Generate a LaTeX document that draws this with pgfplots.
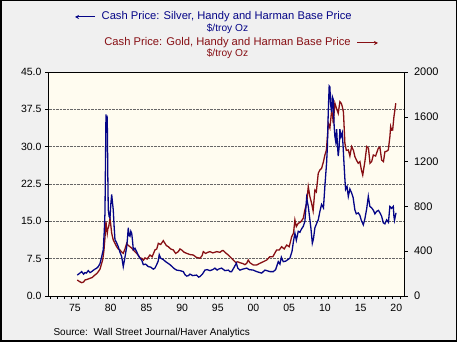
\documentclass[border=0pt]{standalone}
\usepackage{pgfplots}
\pgfplotsset{compat=1.18}
\usepackage{fontspec}
\setmainfont{Liberation Sans}
\usetikzlibrary{arrows.meta}
\definecolor{silv}{RGB}{5,5,135}
\definecolor{gold}{RGB}{135,15,20}
\definecolor{outerbg}{RGB}{240,240,240}
\definecolor{plotbg}{RGB}{255,252,240}
\pgfplotstableread{
year value
1975.82 4.2
1976.1 4.5
1976.44 4.9
1976.7 4.4
1976.9 4.7
1977.1 4.6
1977.36 5.1
1977.6 4.7
1977.84 4.9
1978.1 5.2
1978.3 5.4
1978.55 5.6
1978.76 5.9
1979.0 6.5
1979.24 7.9
1979.46 9.3
1979.6 13.0
1979.7 16.7
1979.78 28.0
1979.84 36.5
1979.92 35.0
1980.02 35.5
1980.1 24.0
1980.16 17.3
1980.28 16.0
1980.4 15.7
1980.52 18.5
1980.64 20.4
1980.75 18.8
1980.86 17.3
1980.98 14.0
1981.1 11.3
1981.3 10.8
1981.56 9.9
1981.8 8.8
1982.04 7.9
1982.26 5.9
1982.5 7.8
1982.74 9.9
1982.85 11.5
1982.96 13.7
1983.08 12.2
1983.2 12.0
1983.32 13.0
1983.44 12.6
1983.55 11.2
1983.67 9.3
1983.9 9.6
1984.14 8.9
1984.35 8.2
1984.6 7.6
1984.85 7.2
1985.07 6.3
1985.4 6.4
1985.77 5.9
1986.1 5.8
1986.47 5.4
1986.7 5.6
1986.94 6.3
1987.15 7.0
1987.3 8.3
1987.5 7.6
1987.87 7.3
1988.2 6.9
1988.5 6.6
1988.8 6.3
1989.1 5.9
1989.4 5.5
1989.74 5.2
1990.2 5.1
1990.67 4.9
1990.9 4.3
1991.14 4.0
1991.4 4.1
1991.6 4.4
1992.0 4.1
1992.54 4.2
1992.8 3.8
1993.0 3.9
1993.35 4.4
1993.7 5.2
1994.0 5.3
1994.4 5.1
1994.8 5.3
1995.1 5.6
1995.4 5.2
1995.6 5.4
1996.04 5.6
1996.5 5.1
1996.97 5.2
1997.2 4.9
1997.44 4.9
1997.8 5.8
1998.1 6.6
1998.3 5.6
1998.6 5.2
1999.0 5.4
1999.55 5.6
1999.9 5.3
2000.47 5.2
2000.94 4.9
2001.4 4.7
2001.65 4.6
2002.1 5.2
2002.35 5.1
2002.8 4.9
2003.28 4.9
2003.6 5.3
2003.97 6.9
2004.2 6.4
2004.4 7.8
2004.67 6.9
2005.0 7.0
2005.3 7.3
2005.6 7.6
2005.9 9.0
2006.1 11.0
2006.3 12.6
2006.5 11.2
2006.77 13.0
2007.0 12.8
2007.2 13.4
2007.47 14.0
2007.7 15.0
2007.94 19.7
2008.17 18.0
2008.4 15.3
2008.55 13.5
2008.74 10.6
2008.9 11.5
2009.1 13.7
2009.35 14.6
2009.57 15.3
2009.8 17.0
2010.04 18.4
2010.3 17.7
2010.5 22.1
2010.74 26.8
2010.85 30.0
2010.97 36.9
2011.1 42.2
2011.2 42.0
2011.3 38.5
2011.45 36.9
2011.55 40.0
2011.67 39.5
2011.8 34.0
2011.9 32.1
2012.02 31.0
2012.15 33.5
2012.25 30.5
2012.37 28.1
2012.5 30.0
2012.6 33.5
2012.75 32.0
2012.94 32.8
2013.05 30.0
2013.17 26.8
2013.3 23.5
2013.4 21.4
2013.6 22.0
2013.78 20.0
2014.0 21.5
2014.24 20.7
2014.45 19.8
2014.7 17.3
2014.9 16.5
2015.17 16.7
2015.4 16.2
2015.6 15.2
2015.88 14.3
2016.1 15.5
2016.35 17.5
2016.58 20.0
2016.8 18.0
2017.05 17.7
2017.3 17.2
2017.5 16.5
2017.75 17.0
2018.0 17.2
2018.25 16.6
2018.45 16.0
2018.68 14.7
2018.9 14.5
2019.15 15.3
2019.4 14.8
2019.6 18.0
2019.85 17.6
2020.08 18.0
2020.17 16.0
2020.25 15.2
2020.46 16.7
}\silver
\pgfplotstableread{
year value
1975.82 143
1976.1 130
1976.44 119
1976.7 125
1976.9 143
1977.2 148
1977.6 158
1977.9 165
1978.3 188
1978.55 200
1978.76 217
1979.0 240
1979.24 292
1979.4 330
1979.56 411
1979.7 520
1979.84 663
1979.92 610
1980.02 560
1980.1 600
1980.22 619
1980.3 650
1980.4 694
1980.52 630
1980.64 560
1980.75 530
1980.86 500
1981.1 470
1981.34 440
1981.55 420
1981.8 411
1982.0 395
1982.26 381
1982.5 420
1982.74 470
1982.9 455
1983.2 440
1983.4 430
1983.67 411
1983.9 395
1984.14 381
1984.4 360
1984.6 340
1984.84 337
1985.1 320
1985.3 340
1985.6 330
1986.0 366
1986.3 350
1986.7 411
1986.95 420
1987.17 470
1987.5 460
1987.87 494
1988.1 470
1988.3 450
1988.57 440
1988.9 420
1989.27 411
1989.6 380
1989.97 396
1990.2 420
1990.44 411
1990.8 390
1991.14 381
1991.6 370
1992.07 366
1992.5 345
1993.0 337
1993.3 360
1993.47 396
1993.8 380
1994.1 390
1994.4 396
1994.8 385
1995.35 396
1995.8 390
1996.1 405
1996.27 405
1996.6 385
1996.97 366
1997.3 345
1997.67 321
1998.0 300
1998.3 305
1998.6 297
1999.0 290
1999.3 280
1999.55 292
1999.77 321
2000.0 297
2000.47 277
2000.94 277
2001.4 292
2001.87 306
2002.35 321
2002.8 351
2003.2 350
2003.74 411
2004.1 410
2004.44 440
2004.8 420
2005.15 455
2005.5 440
2005.85 530
2006.1 560
2006.3 679
2006.5 620
2006.77 649
2007.1 660
2007.47 694
2007.7 768
2007.95 830
2008.17 976
2008.4 887
2008.64 828
2008.85 760
2009.1 946
2009.3 930
2009.57 1096
2009.8 1125
2010.04 1140
2010.3 1200
2010.5 1259
2010.7 1300
2010.84 1408
2010.97 1542
2011.2 1500
2011.45 1661
2011.6 1600
2011.67 1542
2011.9 1721
2012.1 1680
2012.37 1631
2012.6 1735
2012.8 1720
2012.94 1690
2013.1 1640
2013.3 1364
2013.5 1300
2013.78 1304
2014.0 1250
2014.24 1334
2014.5 1300
2014.7 1244
2014.95 1210
2015.17 1185
2015.4 1200
2015.6 1130
2015.8 1080
2016.1 1200
2016.36 1334
2016.6 1320
2016.82 1185
2017.05 1200
2017.28 1259
2017.6 1250
2017.98 1319
2018.2 1330
2018.45 1214
2018.7 1200
2018.91 1289
2019.1 1290
2019.38 1304
2019.6 1420
2019.71 1512
2019.85 1480
2019.99 1482
2020.17 1601
2020.3 1660
2020.43 1721
}\gold
\begin{document}
\begin{tikzpicture}
\fill[outerbg] (0pt,0pt) rectangle (457pt,342pt);
\draw[black,line width=1.5pt] (0.75pt,0.75pt) rectangle (456.25pt,341.25pt);
% gold axis (right scale) with background and grid
\begin{axis}[
  at={(48.5pt,46pt)}, anchor=south west,
  width=355.5pt, height=224pt, scale only axis,
  xmin=1971.79, xmax=2021.58,
  ymin=0, ymax=2000,
  axis x line=none,
  axis y line*=right,
  axis line style={black, line width=0.6pt},
  axis background/.style={fill=plotbg},
  ytick={0,400,800,1200,1600,2000},
  tick align=outside,
  major tick length=3.5pt,
  tick style={black, line width=0.5pt},
  extra y ticks={333.333,666.667,1000,1333.333,1666.667},
  extra y tick labels={},
  extra y tick style={grid=major, major tick length=0pt, grid style={gray!80!black, densely dotted, line width=0.6pt}},
  ticklabel style={font=\fontsize{11}{13}\selectfont},
  yticklabel style={xshift=3pt},
  /pgf/number format/assume math mode=true,
  yticklabel style={/pgf/number format/1000 sep={}},
  clip=true,
]
\addplot[gold, line width=1.3pt] table[x=year,y=value] {\gold};
\end{axis}
% silver axis (left scale)
\begin{axis}[
  at={(48.5pt,46pt)}, anchor=south west,
  width=355.5pt, height=224pt, scale only axis,
  xmin=1971.79, xmax=2021.58,
  ymin=0, ymax=45,
  axis line style={black, line width=0.6pt},
  ytick={0,7.5,15,22.5,30,37.5,45},
  yticklabel style={/pgf/number format/.cd, fixed, fixed zerofill, precision=1},
  xtick={1975.5,1980.5,1985.5,1990.5,1995.5,2000.5,2005.5,2010.5,2015.5,2020.5},
  xticklabels={75,80,85,90,95,00,05,10,15,20},
  minor xtick={1972,1973,...,2021},
  xtick pos=bottom, ytick pos=left,
  tick align=outside,
  major tick length=3.5pt, minor tick length=3pt,
  major x tick style={draw=none},
  tick style={black, line width=0.5pt},
  ticklabel style={font=\fontsize{10.5}{12}\selectfont},
  /pgf/number format/assume math mode=true,
  xticklabel style={yshift=-1pt},
]
\addplot[silv, line width=1.3pt] table[x=year,y=value] {\silver};
\end{axis}
% titles
\node[silv, font=\fontsize{11.2}{13}\selectfont] at (226.7pt,325pt) {Cash Price: Silver, Handy and Harman Base Price};
\node[silv, font=\fontsize{10.2}{12}\selectfont] at (227.5pt,313pt) {\$/troy Oz};
\draw[silv, line width=1pt, -{Stealth[length=4pt,width=4pt]}] (95pt,325pt) -- (75pt,325pt);
\node[gold, font=\fontsize{11.2}{13}\selectfont] at (227.5pt,299pt) {Cash Price: Gold, Handy and Harman Base Price};
\node[gold, font=\fontsize{10.2}{12}\selectfont] at (227.5pt,288pt) {\$/troy Oz};
\draw[gold, line width=1pt, -{Stealth[length=4pt,width=4pt]}] (357pt,299pt) -- (378pt,299pt);
\node[anchor=west, font=\fontsize{10}{12}\selectfont] at (50pt,9pt) {Source:\ \ Wall Street Journal/Haver Analytics};
\end{tikzpicture}
\end{document}
